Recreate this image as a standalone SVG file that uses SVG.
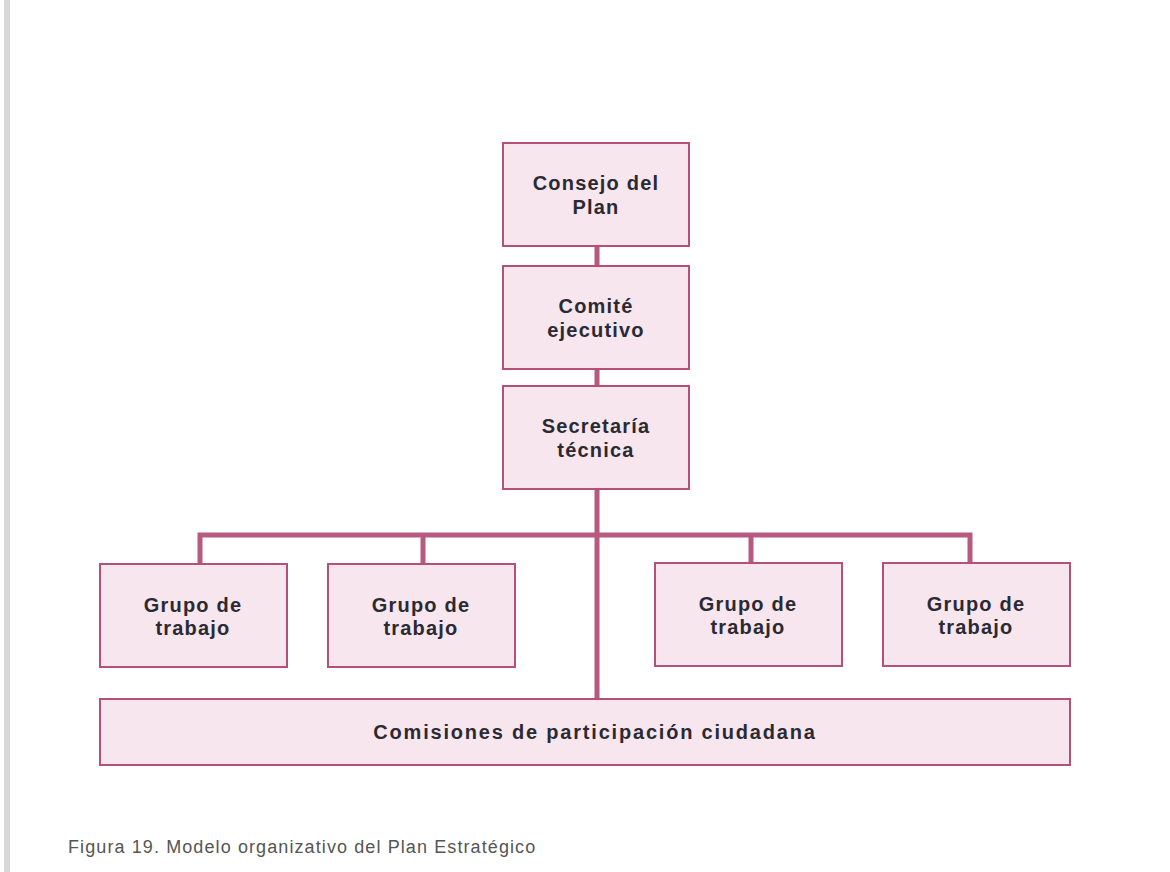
<svg xmlns="http://www.w3.org/2000/svg" width="1170" height="872" viewBox="0 0 1170 872">
<style>
.box{fill:#f7e6ee;stroke:#b5507a;stroke-width:2}
.lbl{font-family:"Liberation Sans",Arial,sans-serif;font-weight:bold;font-size:20px;letter-spacing:1.2px;fill:#2b2a33;text-anchor:middle}
.big{letter-spacing:1.8px}
.conn{fill:none;stroke:#b85a80;stroke-width:5}
.cap{font-family:"Liberation Sans",Arial,sans-serif;font-size:18px;letter-spacing:1.1px;fill:#555}
</style>
<rect width="1170" height="872" fill="#ffffff"/>
<rect x="4" y="0" width="6" height="872" fill="#d8d8d8"/>
<g id="connectors">
<path class="conn" d="M597 246V266M597 369V386M597 489V699"/>
<path class="conn" d="M200 564V535H970V564M423 535V564M751 535V564"/>
</g>
<g id="consejo"><rect class="box" x="503" y="143" width="186" height="103"/><text class="lbl" x="596" y="190">Consejo del</text><text class="lbl" x="596" y="214">Plan</text></g>
<g id="comite"><rect class="box" x="503" y="266" width="186" height="103"/><text class="lbl" x="596" y="313">Comité</text><text class="lbl" x="596" y="337">ejecutivo</text></g>
<g id="secretaria"><rect class="box" x="503" y="386" width="186" height="103"/><text class="lbl" x="596" y="433">Secretaría</text><text class="lbl" x="596" y="457">técnica</text></g>
<g id="grupo1"><rect class="box" x="100" y="564" width="187" height="103"/><text class="lbl" x="193" y="612">Grupo de</text><text class="lbl" x="193" y="635">trabajo</text></g>
<g id="grupo2"><rect class="box" x="328" y="564" width="187" height="103"/><text class="lbl" x="421" y="612">Grupo de</text><text class="lbl" x="421" y="635">trabajo</text></g>
<g id="grupo3"><rect class="box" x="655" y="563" width="187" height="103"/><text class="lbl" x="748" y="611">Grupo de</text><text class="lbl" x="748" y="634">trabajo</text></g>
<g id="grupo4"><rect class="box" x="883" y="563" width="187" height="103"/><text class="lbl" x="976" y="611">Grupo de</text><text class="lbl" x="976" y="634">trabajo</text></g>
<g id="comisiones"><rect class="box" x="100" y="699" width="970" height="66"/><text class="lbl big" x="595" y="739">Comisiones de participación ciudadana</text></g>
<text class="cap" x="68" y="853">Figura 19. Modelo organizativo del Plan Estratégico</text>
</svg>
